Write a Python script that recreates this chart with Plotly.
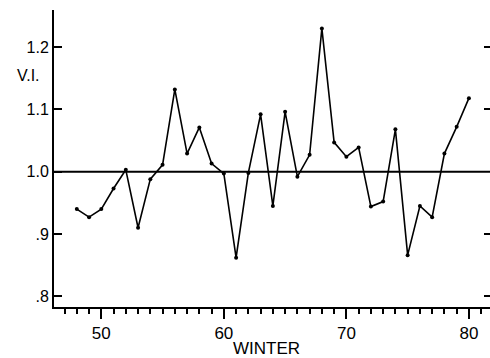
import plotly.graph_objects as go

# Data
winters = list(range(48, 81))
vi_values = [0.940, 0.927, 0.940, 0.973, 1.003, 0.910, 0.988, 1.011, 1.132, 1.029,
             1.071, 1.013, 0.997, 0.862, 0.998, 1.092, 0.945, 1.096, 0.992, 1.027,
             1.230, 1.047, 1.024, 1.039, 0.944, 0.952, 1.068, 0.866, 0.945, 0.927,
             1.029, 1.072, 1.118]
reference_level = 1.0
x_tick_vals = [50, 60, 70, 80]
x_tick_text = ["50", "60", "70", "80"]
y_tick_vals = [0.8, 0.9, 1.0, 1.1, 1.2]
y_tick_text = [".8", ".9", "1.0", "1.1", "1.2"]
right_tick_vals = [0.8, 0.9, 1.1, 1.2]

FONT = "Liberation Sans"
X_RANGE = [46.14, 81.72]
Y_RANGE = [0.7828, 1.2595]

fig = go.Figure()
fig.add_trace(go.Scatter(
    x=winters, y=vi_values, mode="lines+markers",
    line=dict(color="black", width=1.6),
    marker=dict(color="black", size=4),
    showlegend=False, hoverinfo="skip",
))
# invisible trace so the right-hand tick axis is drawn
fig.add_trace(go.Scatter(
    x=winters, y=vi_values, yaxis="y2", mode="lines",
    line=dict(width=0), opacity=0, showlegend=False, hoverinfo="skip",
))

fig.add_shape(type="line", xref="paper", x0=0, x1=1, yref="y",
              y0=reference_level, y1=reference_level,
              line=dict(color="black", width=2))

fig.update_layout(
    width=490, height=358,
    margin=dict(l=54, r=0, t=10, b=51),
    paper_bgcolor="white", plot_bgcolor="white",
    font=dict(family=FONT, color="black", size=17),
    xaxis=dict(
        range=X_RANGE, showgrid=False, zeroline=False,
        showline=True, linecolor="black", linewidth=2,
        tickmode="array", tickvals=x_tick_vals, ticktext=x_tick_text,
        ticks="outside", ticklen=10, tickwidth=1.5, tickcolor="black",
        tickfont=dict(size=17),
        minor=dict(dtick=1, tick0=50, ticks="outside", ticklen=5,
                   tickwidth=1.5, tickcolor="black", showgrid=False),
    ),
    yaxis=dict(
        range=Y_RANGE, showgrid=False, zeroline=False,
        showline=True, linecolor="black", linewidth=2,
        tickmode="array", tickvals=y_tick_vals, ticktext=y_tick_text,
        ticks="inside", ticklen=8, tickwidth=1.5, tickcolor="black",
        tickfont=dict(size=16),
    ),
    yaxis2=dict(
        range=Y_RANGE, overlaying="y", side="right", anchor="x",
        showgrid=False, zeroline=False, showline=False,
        tickmode="array", tickvals=right_tick_vals,
        ticks="inside", ticklen=6, tickwidth=2, tickcolor="black",
        showticklabels=False,
    ),
    annotations=[
        dict(text="V.I.", xref="paper", yref="paper", x=-0.0275, y=0.781,
             xanchor="right", yanchor="middle", showarrow=False,
             font=dict(size=16)),
        dict(text="WINTER", xref="paper", yref="paper", x=0.487, y=-0.14,
             xanchor="center", yanchor="middle", showarrow=False,
             font=dict(size=17)),
    ],
)

# remove the page's default body margin so the figure fills the window exactly
fig.write_html(
    "out.html",
    config={"displayModeBar": False},
    post_script=("document.body.style.margin='0';"
                 "document.body.style.overflow='hidden';"
                 "document.documentElement.style.overflow='hidden';"),
)
